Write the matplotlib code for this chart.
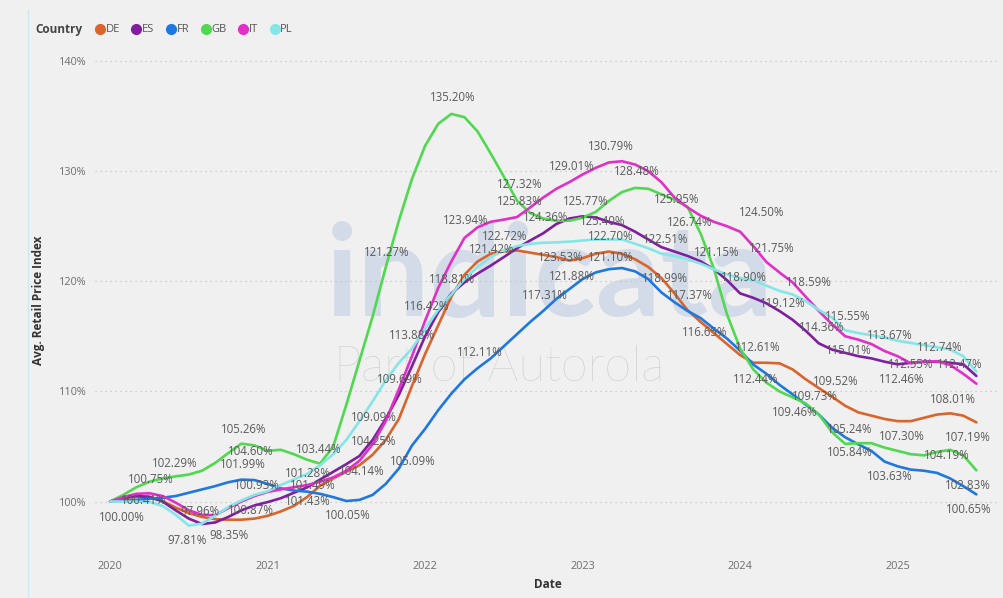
import numpy as np
import matplotlib.pyplot as plt
from matplotlib.lines import Line2D

# Monthly index, Jan 2020 .. Jul 2025 (67 points)
years = ['2020', '2021', '2022', '2023', '2024', '2025']
countries = ['DE', 'ES', 'FR', 'GB', 'IT', 'PL']
colors = {'DE': '#d9652c', 'ES': '#7f1f9f', 'FR': '#1f78df',
          'GB': '#50d850', 'IT': '#e030c8', 'PL': '#84e6e6'}

de = [100.00, 100.30, 100.45, 100.45, 100.05, 99.45, 98.95, 98.60, 98.40, 98.35,
      98.35, 98.45, 98.70, 99.10, 99.60, 100.40, 101.43, 102.10, 102.70, 103.30,
      104.25, 105.60, 107.50, 110.50, 113.40, 116.00, 118.60, 120.60, 121.80, 122.50,
      122.72, 122.80, 122.60, 122.40, 122.20, 121.88, 122.10, 122.50, 122.70, 122.50,
      122.00, 121.30, 120.30, 118.90, 117.37, 116.30, 115.30, 114.30, 113.30, 112.61,
      112.60, 112.55, 112.00, 111.10, 110.30, 109.52, 108.70, 108.10, 107.80, 107.50,
      107.30, 107.30, 107.60, 107.90, 108.01, 107.80, 107.19]
es = [100.00, 100.35, 100.50, 100.41, 100.00, 99.20, 98.45, 97.96, 98.10, 98.60,
      99.20, 99.65, 99.95, 100.30, 100.80, 101.28, 102.00, 102.70, 103.40, 104.14,
      105.60, 107.50, 109.69, 112.30, 115.00, 117.20, 118.90, 119.90, 120.70, 121.42,
      122.20, 123.00, 123.70, 124.36, 125.20, 125.70, 125.90, 125.80, 125.40, 125.10,
      124.50, 123.80, 123.10, 122.70, 122.30, 121.80, 121.10, 120.10, 118.90, 118.50,
      118.00, 117.30, 116.50, 115.50, 114.36, 113.80, 113.50, 113.20, 113.00, 112.70,
      112.46, 112.60, 112.70, 112.70, 112.60, 112.47, 111.40]
fr = [100.00, 100.10, 100.15, 100.25, 100.35, 100.50, 100.80, 101.10, 101.40, 101.75,
      101.99, 101.95, 101.60, 101.20, 101.00, 100.90, 100.70, 100.40, 100.05, 100.15,
      100.60, 101.60, 103.00, 105.09, 106.60, 108.30, 109.80, 111.10, 112.11, 113.00,
      114.10, 115.20, 116.30, 117.31, 118.40, 119.30, 120.20, 120.80, 121.10, 121.20,
      120.90, 120.20, 118.99, 118.10, 117.30, 116.65, 115.70, 114.80, 113.70, 112.44,
      111.60, 110.60, 109.73, 108.80, 107.90, 106.70, 105.84, 105.20, 104.60, 103.63,
      103.20, 102.90, 102.80, 102.60, 102.10, 101.40, 100.65]
gb = [100.00, 100.60, 101.30, 101.80, 102.10, 102.29, 102.45, 102.80, 103.50, 104.40,
      105.26, 105.10, 104.60, 104.70, 104.30, 103.80, 103.44, 105.00, 108.80, 112.80,
      116.80, 121.27, 125.50, 129.30, 132.30, 134.30, 135.20, 134.90, 133.60, 131.60,
      129.50, 127.32, 126.20, 125.70, 125.50, 125.50, 125.77, 126.30, 127.30, 128.10,
      128.48, 128.40, 127.90, 127.40, 126.74, 124.30, 121.15, 117.00, 113.90, 112.00,
      110.80, 110.00, 109.46, 108.90, 107.90, 106.30, 105.24, 105.30, 105.30, 104.90,
      104.60, 104.30, 104.19, 104.50, 104.70, 104.20, 102.83]
it = [100.00, 100.40, 100.70, 100.75, 100.50, 99.90, 99.20, 98.80, 98.75, 99.40,
      100.00, 100.50, 100.87, 101.10, 101.30, 101.49, 101.80, 102.20, 102.80, 103.70,
      105.20, 107.30, 110.20, 113.20, 116.42, 119.40, 121.80, 123.94, 124.90, 125.40,
      125.60, 125.83, 126.70, 127.60, 128.40, 129.01, 129.70, 130.30, 130.79, 130.90,
      130.60, 130.00, 129.00, 127.60, 126.70, 125.95, 125.40, 125.00, 124.50, 123.20,
      121.75, 120.80, 119.90, 118.59, 117.30, 116.10, 115.01, 114.70, 114.30, 113.67,
      113.20, 112.55, 112.70, 112.74, 112.40, 111.60, 110.70]
pl = [100.00, 100.00, 100.00, 99.95, 99.60, 98.80, 97.81, 98.00, 98.70, 99.50,
      100.10, 100.60, 100.93, 101.50, 102.00, 102.50, 103.30, 104.30, 105.60, 107.30,
      109.09, 111.00, 112.60, 113.88, 115.70, 117.40, 118.81, 120.20, 121.30, 122.20,
      122.80, 123.20, 123.40, 123.50, 123.53, 123.60, 123.70, 123.80, 123.80, 123.80,
      123.40, 123.00, 122.51, 122.30, 122.00, 121.60, 121.10, 120.60, 120.30, 120.10,
      119.60, 119.12, 118.80, 118.20, 117.40, 116.70, 115.55, 115.30, 115.10, 114.90,
      114.60, 114.40, 114.20, 114.00, 113.80, 113.20, 111.80]

series = {'DE': de, 'ES': es, 'FR': fr, 'GB': gb, 'IT': it, 'PL': pl}
months = np.arange(len(de))

# data labels: (country, month index, dx px, dy px; dy > 0 = below the point)
labels = [
    ('PL', 0, 12, 16), ('IT', 3, 1, -14), ('ES', 3, -6, 3), ('GB', 5, -1, -13),
    ('GB', 10, 2, -14), ('GB', 12, -17, 1), ('FR', 10, 2, -15), ('PL', 12, -11, -6),
    ('ES', 7, -2, -13), ('IT', 12, -17, 19), ('GB', 16, -1, -14), ('ES', 15, 1, -14),
    ('IT', 15, 6, 0), ('DE', 16, -12, 16), ('PL', 6, -2, 15), ('DE', 9, 1, 16),
    ('PL', 20, 1, 16), ('DE', 20, 1, -13), ('ES', 19, 2, 16), ('FR', 23, 1, 16),
    ('FR', 18, 1, 15), ('GB', 21, 1, -15), ('IT', 24, 2, -14), ('PL', 23, 0, -13),
    ('ES', 22, 1, -15), ('PL', 26, 1, -15), ('IT', 27, 1, -17), ('GB', 26, 1, -16),
    ('GB', 31, 3, -16), ('IT', 31, 3, -16), ('ES', 33, 2, -16), ('IT', 35, 2, -16),
    ('IT', 38, 2, -16), ('GB', 40, 2, -16), ('GB', 36, 3, -16), ('ES', 38, -6, 0),
    ('DE', 38, 2, -15), ('PL', 34, 4, 15), ('DE', 30, 1, -15), ('ES', 29, 1, -16),
    ('FR', 38, 2, -12), ('DE', 35, 2, 16), ('FR', 33, 2, -15), ('FR', 28, 2, -16),
    ('PL', 42, 4, -14), ('FR', 42, 4, -14), ('DE', 44, 2, -15), ('FR', 45, 4, 14),
    ('IT', 45, -24, -16), ('GB', 44, 2, 15), ('GB', 46, 3, -16), ('IT', 48, 22, -19),
    ('IT', 50, 5, -14), ('ES', 48, 4, -16), ('IT', 53, 3, -14), ('PL', 51, 3, 13),
    ('DE', 49, 5, -15), ('FR', 49, 2, 15), ('ES', 54, 3, -16), ('PL', 56, 3, -14),
    ('IT', 59, 5, -15), ('IT', 56, 4, 14), ('IT', 63, 3, -14), ('IT', 61, 0, 1),
    ('ES', 65, -3, 0), ('ES', 60, 4, 15), ('DE', 55, 4, -15), ('FR', 52, 22, 2),
    ('GB', 52, 2, 15), ('DE', 64, 3, -14), ('GB', 56, 5, -14), ('DE', 60, 4, 15),
    ('DE', 66, -8, 15), ('FR', 56, 5, 15), ('GB', 62, 23, 0), ('FR', 59, 5, 15),
    ('GB', 66, -8, 15), ('FR', 66, -8, 15),
]

plt.rcParams['font.family'] = ['Open Sans', 'DejaVu Sans']
bg = '#f0f0f0'
fig = plt.figure(figsize=(10.04, 5.98), dpi=100, facecolor=bg)
ax = fig.add_axes([95 / 1004, 48 / 598, 905 / 1004, 500 / 598])
ax.set_facecolor(bg)

# watermark
ax.text(0.502, 0.54, 'indicata', transform=ax.transAxes, ha='center', va='center',
        fontsize=92, fontweight='bold', family='Lato', color='#d2dbe7', zorder=0)
ax.text(0.447, 0.365, 'Part of Autorola', transform=ax.transAxes, ha='center',
        va='center', fontsize=35, fontweight='light', family='Lato',
        color='#c6c6c6', zorder=0)

for c in countries:
    ax.plot(months, series[c], color=colors[c], lw=1.9, zorder=3,
            solid_capstyle='round', solid_joinstyle='round')

for c, i, dx, dy in labels:
    v = series[c][i]
    ax.annotate(f'{v:.2f}%', (months[i], v), xytext=(dx, -dy),
                textcoords='offset pixels', ha='center', va='center',
                fontsize=8.3, color='#5a5a5a', zorder=4)

ax.set_xlim(-1.15, 67.8)
ax.set_ylim(95.6, 141.0)
ax.set_xticks(np.arange(len(years)) * 12)
ax.set_xticklabels(years)
ax.set_yticks([100, 110, 120, 130, 140])
ax.set_yticklabels(['100%', '110%', '120%', '130%', '140%'])
ax.tick_params(length=0, labelsize=7.8, colors='#6e6e6e')
ax.tick_params(axis='x', pad=8)
ax.tick_params(axis='y', pad=6)
ax.grid(axis='y', color='#c4c4c4', linestyle=(0, (1, 3)), lw=0.9)
for s in ax.spines.values():
    s.set_visible(False)

ax.set_xlabel('Date', fontsize=8.5, fontweight='bold', color='#333333', labelpad=4)
ax.set_ylabel('Avg. Retail Price Index', fontsize=8.5, fontweight='bold',
              color='#333333', labelpad=10)

# legend
fig.text(35 / 1004, 1 - 30 / 598, 'Country', fontsize=8.5, fontweight='bold',
         color='#444444', va='center')
handles = [Line2D([], [], marker='o', ls='', ms=7, color=colors[c]) for c in countries]
fig.legend(handles, countries, loc='center left', bbox_to_anchor=(96 / 1004, 1 - 30 / 598),
           ncol=6, frameon=False, fontsize=8, handlelength=0.7, handletextpad=0.15,
           columnspacing=1.15, borderpad=0, borderaxespad=0, labelcolor='#555555')

fig.add_artist(Line2D([28 / 1004, 28 / 1004], [0, 1 - 10 / 598], color='#cde8f2', lw=1))

fig.savefig('out.png', dpi=100, facecolor=bg)
